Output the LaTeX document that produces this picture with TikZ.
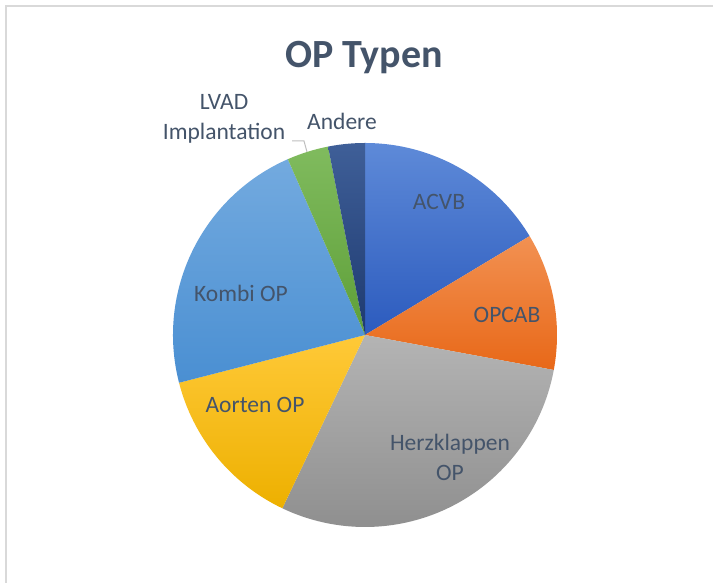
\documentclass[tikz,border=0pt]{standalone}
\usepackage{fontspec}
\setmainfont{Carlito}
\definecolor{txt}{HTML}{44546A}
\definecolor{framecol}{HTML}{D9D9D9}
\definecolor{leadcol}{HTML}{BFBFBF}
\definecolor{acvbT}{HTML}{5E8AD8}\definecolor{acvbB}{HTML}{2C5BBE}
\definecolor{opcabT}{HTML}{F29152}\definecolor{opcabB}{HTML}{E86818}
\definecolor{herzT}{HTML}{B4B4B4}\definecolor{herzB}{HTML}{8E8E8E}
\definecolor{aortT}{HTML}{FFC938}\definecolor{aortB}{HTML}{EDB000}
\definecolor{kombT}{HTML}{73AADF}\definecolor{kombB}{HTML}{4A8FD2}
\definecolor{lvadT}{HTML}{80BB5E}\definecolor{lvadB}{HTML}{5E9F38}
\definecolor{andT}{HTML}{3F5F98}\definecolor{andB}{HTML}{1E3A70}
\tikzset{
  lbl/.style={text=txt, font=\fontsize{23.5}{30}\selectfont, inner sep=0pt},
  ttl/.style={text=txt, font=\fontsize{40}{46}\selectfont\bfseries, inner sep=0pt},
}
\newcommand{\pieslice}[4]{% start, end, top, bottom
  \shade[top color=#3, bottom color=#4] (c) -- ++(#1:192) arc[start angle=#1, end angle=#2, radius=192] -- cycle;}
\begin{document}
\begin{tikzpicture}[x=1pt,y=1pt]
\useasboundingbox (0,0) rectangle (713,583);
\clip (0,0) rectangle (713,583);
\fill[white] (0,0) rectangle (713,583);
\draw[framecol, line width=1.3pt] (6,-20) -- (6,577) -- (740,577);
\coordinate (c) at (365,248);
\pieslice{90}{31}{acvbT}{acvbB}
\pieslice{31}{-10.5}{opcabT}{opcabB}
\pieslice{-10.5}{-115.5}{herzT}{herzB}
\pieslice{-115.5}{-165.6}{aortT}{aortB}
\pieslice{-165.6}{-246.3}{kombT}{kombB}
\pieslice{-246.3}{-258.9}{lvadT}{lvadB}
\pieslice{-258.9}{-270}{andT}{andB}
\node[ttl, anchor=base] (title) at (364,515) {OP Typen};
\node[lbl, anchor=base] (acvb) at (439,373) {ACVB};
\node[lbl, anchor=base] (opcab) at (507,260) {OPCAB};
\node[lbl, align=center] (herz) at (450,126) {Herzklappen\\OP};
\node[lbl, anchor=base] (aorten) at (255,170) {Aorten OP};
\node[lbl, anchor=base] (kombi) at (241,281) {Kombi OP};
\node[lbl, anchor=base] (andere) at (342,453) {Andere};
\node[lbl, align=center] (lvad) at (224,464) {LVAD\\Implantation};
\coordinate (l1) at (292,442);
\coordinate (l2) at (304,442);
\coordinate (l3) at (307,431);
\draw[leadcol, line width=1pt] (l1) -- (l2) -- (l3);
\end{tikzpicture}
\end{document}
